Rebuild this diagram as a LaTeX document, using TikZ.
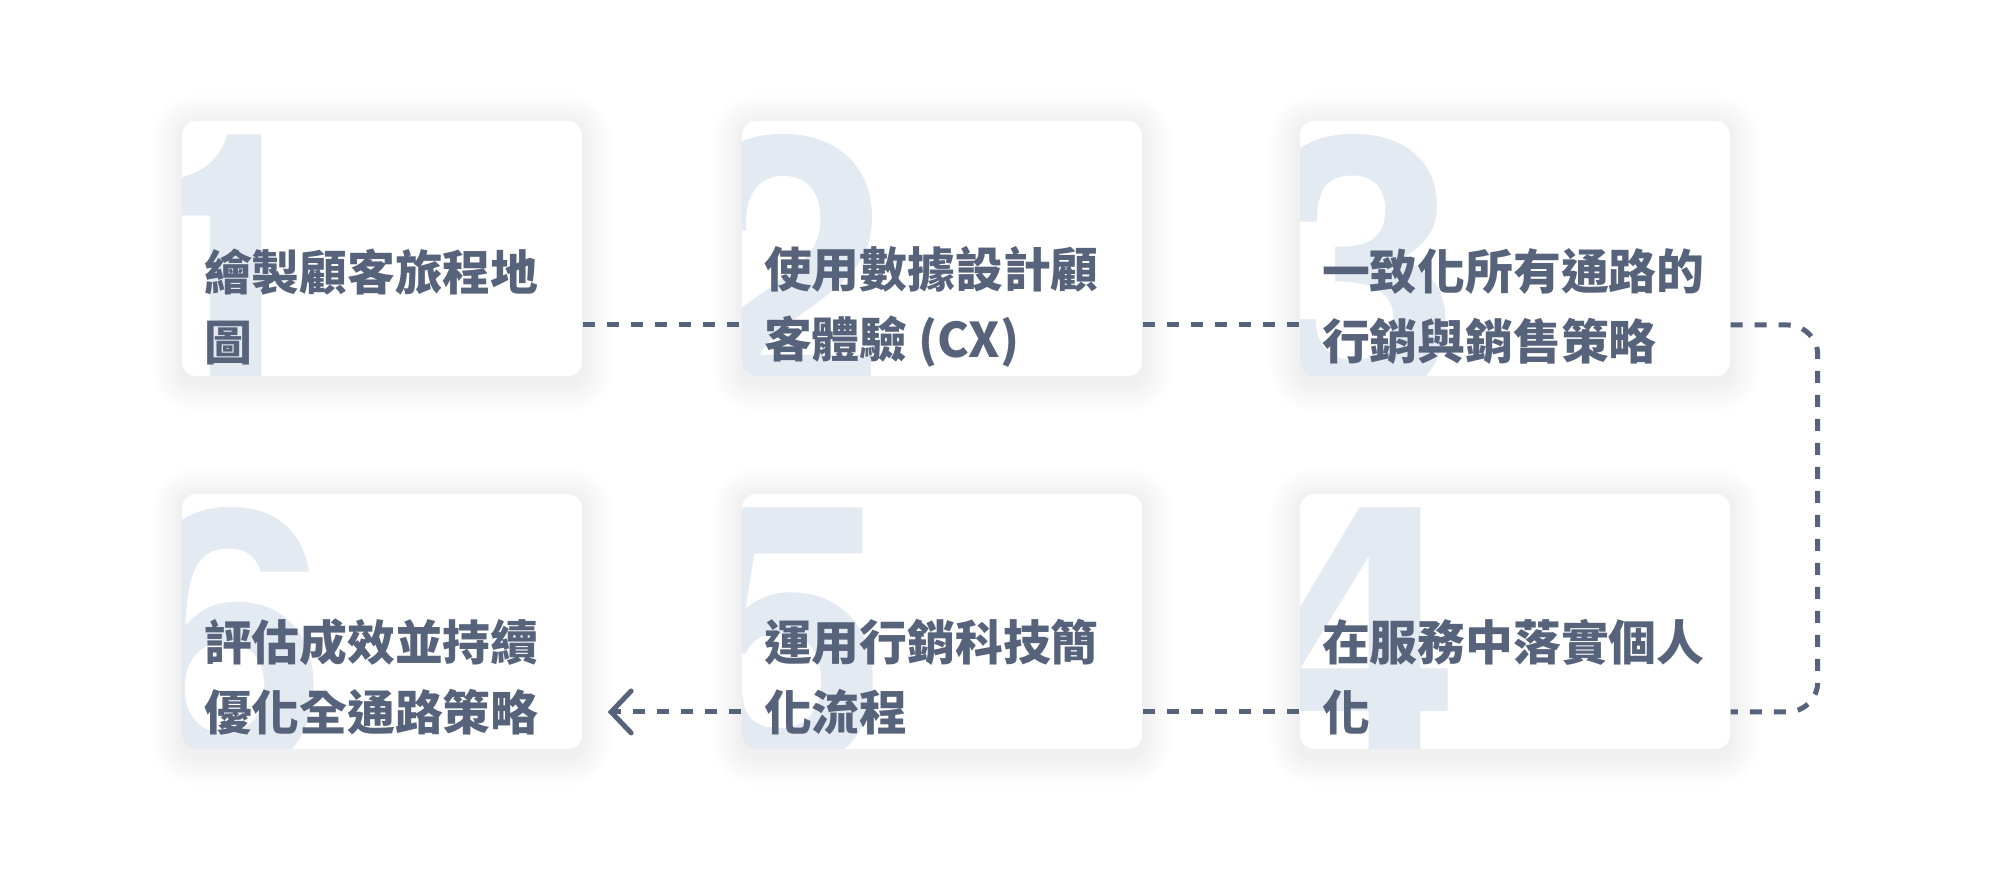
\documentclass[tikz,border=0pt]{standalone}
\usepackage{fontspec}
\setmainfont{Noto Sans CJK TC}
\newfontfamily\numfont{TeX Gyre Heros}
\usetikzlibrary{arrows.meta,backgrounds}
\definecolor{ink}{HTML}{57627B}
\definecolor{ghost}{HTML}{E4EAF2}

\tikzset{
	card/.style={fill=white, rounded corners=0.14cm, minimum height=2.55cm, inner sep=0pt},
	digit/.style={font=\numfont\bfseries\fontsize{105}{105}\selectfont, text=ghost, inner sep=0pt, anchor=north west},
	bignum/.style={path picture={\node[digit] at ([xshift=-1.58cm,yshift=-0.13cm]path picture bounding box.north west) {#1};}},
	steptext/.style={font=\fontsize{13.6}{19.9}\selectfont\bfseries, text=ink, align=left, inner sep=0pt, anchor=west},
	flow/.style={draw=ink, line width=1.42pt, dash pattern=on 0.12cm off 0.12cm},
	glow/.style={fill=black, opacity=0.005},
}

\begin{document}
\begin{tikzpicture}[>={Straight Barb[length=0.2cm, width=0.42cm, line cap=round]}]
	\useasboundingbox (0,0) rectangle (20,8.76);
	% cards, top row left to right, bottom row right to left
	\node[card, minimum width=4cm, bignum=1]   (s1) at (3.82, 6.275)  {};
	\node[card, minimum width=4cm, bignum=2]   (s2) at (9.42, 6.275)  {};
	\node[card, minimum width=4.3cm, bignum=3] (s3) at (15.15, 6.275) {};
	\node[card, minimum width=4.3cm, bignum=4] (s4) at (15.15, 2.545) {};
	\node[card, minimum width=4cm, bignum=5]   (s5) at (9.42, 2.545)  {};
	\node[card, minimum width=4cm, bignum=6]   (s6) at (3.82, 2.545)  {};
	\node[steptext] (t1) at ([xshift=0.22cm,yshift=-0.585cm]s1.west) {繪製顧客旅程地\\圖};
	\node[steptext] (t2) at ([xshift=0.22cm,yshift=-0.585cm]s2.west) {使用數據設計顧\\客體驗 (CX)};
	\node[steptext] (t3) at ([xshift=0.22cm,yshift=-0.585cm]s3.west) {一致化所有通路的\\行銷與銷售策略};
	\node[steptext] (t4) at ([xshift=0.22cm,yshift=-0.555cm]s4.west) {在服務中落實個人\\化};
	\node[steptext] (t5) at ([xshift=0.22cm,yshift=-0.555cm]s5.west) {運用行銷科技簡\\化流程};
	\node[steptext] (t6) at ([xshift=0.22cm,yshift=-0.555cm]s6.west) {評估成效並持續\\優化全通路策略};
	% soft shadow under the cards
	\begin{scope}[on background layer]
		\fill[white] (0,0) rectangle (20,8.76);
		\foreach \s in {s1,s2,s3,s4,s5,s6}
			\foreach \r in {0.02,0.04,...,0.3}
				\fill[glow, rounded corners=0.14cm+\r cm] ([shift={(-\r,-\r-0.06)}]\s.south west) rectangle ([shift={(\r,\r-0.04)}]\s.north east);
	\end{scope}
	% dashed path between the steps
	\draw[flow] ([yshift=-0.765cm]s1.east) -- ([yshift=-0.765cm]s2.west);
	\draw[flow] ([yshift=-0.765cm]s2.east) -- ([yshift=-0.765cm]s3.west);
	\draw[flow, rounded corners=0.3cm] ([yshift=-0.765cm]s3.east) -- ++(0.87,0) |- ([yshift=-0.905cm]s4.east);
	\draw[flow] ([yshift=-0.905cm]s4.west) -- ([yshift=-0.905cm]s5.east);
	\draw[flow, ->] ([yshift=-0.905cm]s5.west) -- ([xshift=0.25cm,yshift=-0.905cm]s6.east);
\end{tikzpicture}
\end{document}
